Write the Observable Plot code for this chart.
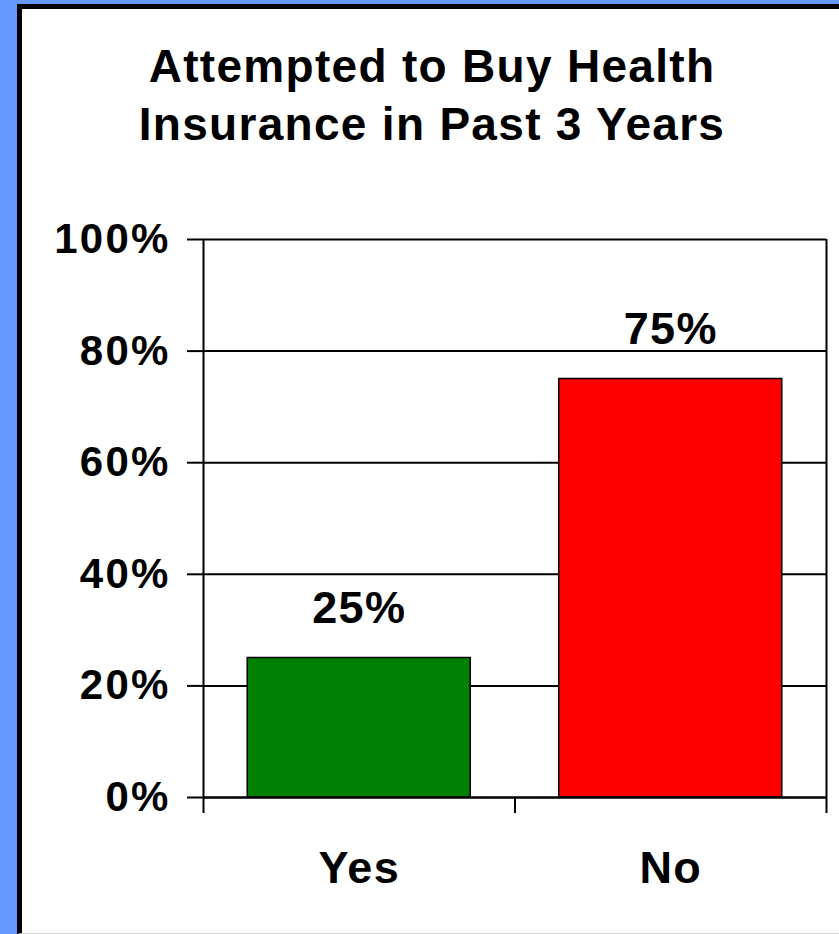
<!DOCTYPE html>
<html>
<head>
<meta charset="utf-8">
<script src="https://cdn.jsdelivr.net/npm/d3@7"></script>
<script src="https://cdn.jsdelivr.net/npm/@observablehq/plot@0.6"></script>
<style>
  html, body { margin: 0; padding: 0; width: 839px; height: 934px; overflow: hidden; background: #6699ff; }
  #panel { position: absolute; left: 17px; top: 4px; width: 900px; height: 924px;
           border-left: 5px solid #000; border-top: 5px solid #000; border-bottom: 1px solid #d4d4d4; background: #fff; }
  #title { position: absolute; left: 0; top: 37px; width: 864px; text-align: center;
           font-family: "Liberation Sans", Arial, sans-serif; font-weight: bold; font-size: 46px; line-height: 58px; color: #000;
           letter-spacing: 1.3px; }
  #chart { position: absolute; left: 0; top: 0; }
  #chart svg text { letter-spacing: 1.3px; }
  #chart svg g[aria-label="y-axis tick label"] text { letter-spacing: 2.2px; }
</style>
</head>
<body>
<div id="panel"></div>
<div id="title">Attempted to Buy Health<br>Insurance in Past 3 Years</div>
<div id="chart"></div>
<script>
const categories = ["Yes", "No"];
const values = [25, 75];
const colors = ["#008000", "#ff0000"];
const yTicks = [0, 20, 40, 60, 80, 100];
const valueLabels = ["25%", "75%"];

const barInset = 0.142;
const data = categories.map((c, i) => ({cat: c, i, value: values[i], color: colors[i], label: valueLabels[i]}));
const boundaries = d3.range(categories.length + 1);

const chart = Plot.plot({
  width: 839,
  height: 934,
  marginLeft: 203,
  marginRight: 13,
  marginTop: 239,
  marginBottom: 137,
  x: {type: "linear", domain: [0, categories.length], axis: null},
  y: {domain: [0, 100], axis: null},
  style: {fontFamily: "'Liberation Sans', Arial, sans-serif", fontWeight: "bold", fontSize: "45px", background: "transparent", color: "#000", overflow: "visible"},
  marks: [
    Plot.ruleY(yTicks, {x1: 0, x2: categories.length, stroke: "#000", strokeWidth: 2}),
    Plot.axisY({ticks: yTicks, label: null, tickSize: 16, tickPadding: 17, tickFormat: d => d + "%", fontSize: 42, fontWeight: "bold", stroke: "#000", strokeWidth: 2, strokeOpacity: 1}),
    Plot.rectY(data, {x1: d => d.i + barInset, x2: d => d.i + 1 - barInset, y1: 0, y2: "value", fill: "color", stroke: "#000", strokeWidth: 1.5}),
    Plot.ruleX([0, categories.length], {y1: 0, y2: 100, stroke: "#000", strokeWidth: 2}),
    Plot.axisX({ticks: boundaries, label: null, tickSize: 16, tickFormat: () => "", stroke: "#000", strokeWidth: 2, strokeOpacity: 1}),
    Plot.ruleY([0], {x1: 0, x2: categories.length, stroke: "#000", strokeWidth: 2}),
    Plot.text(data, {x: d => d.i + 0.5, y: "value", text: "label", dy: -49.5, fontSize: 45, fontWeight: "bold", fill: "#000"}),
    Plot.text(data, {x: d => d.i + 0.5, y: 0, text: "cat", dy: 71.5, fontSize: 45, fontWeight: "bold", fill: "#000"})
  ]
});
document.getElementById("chart").appendChild(chart);
</script>
</body>
</html>
